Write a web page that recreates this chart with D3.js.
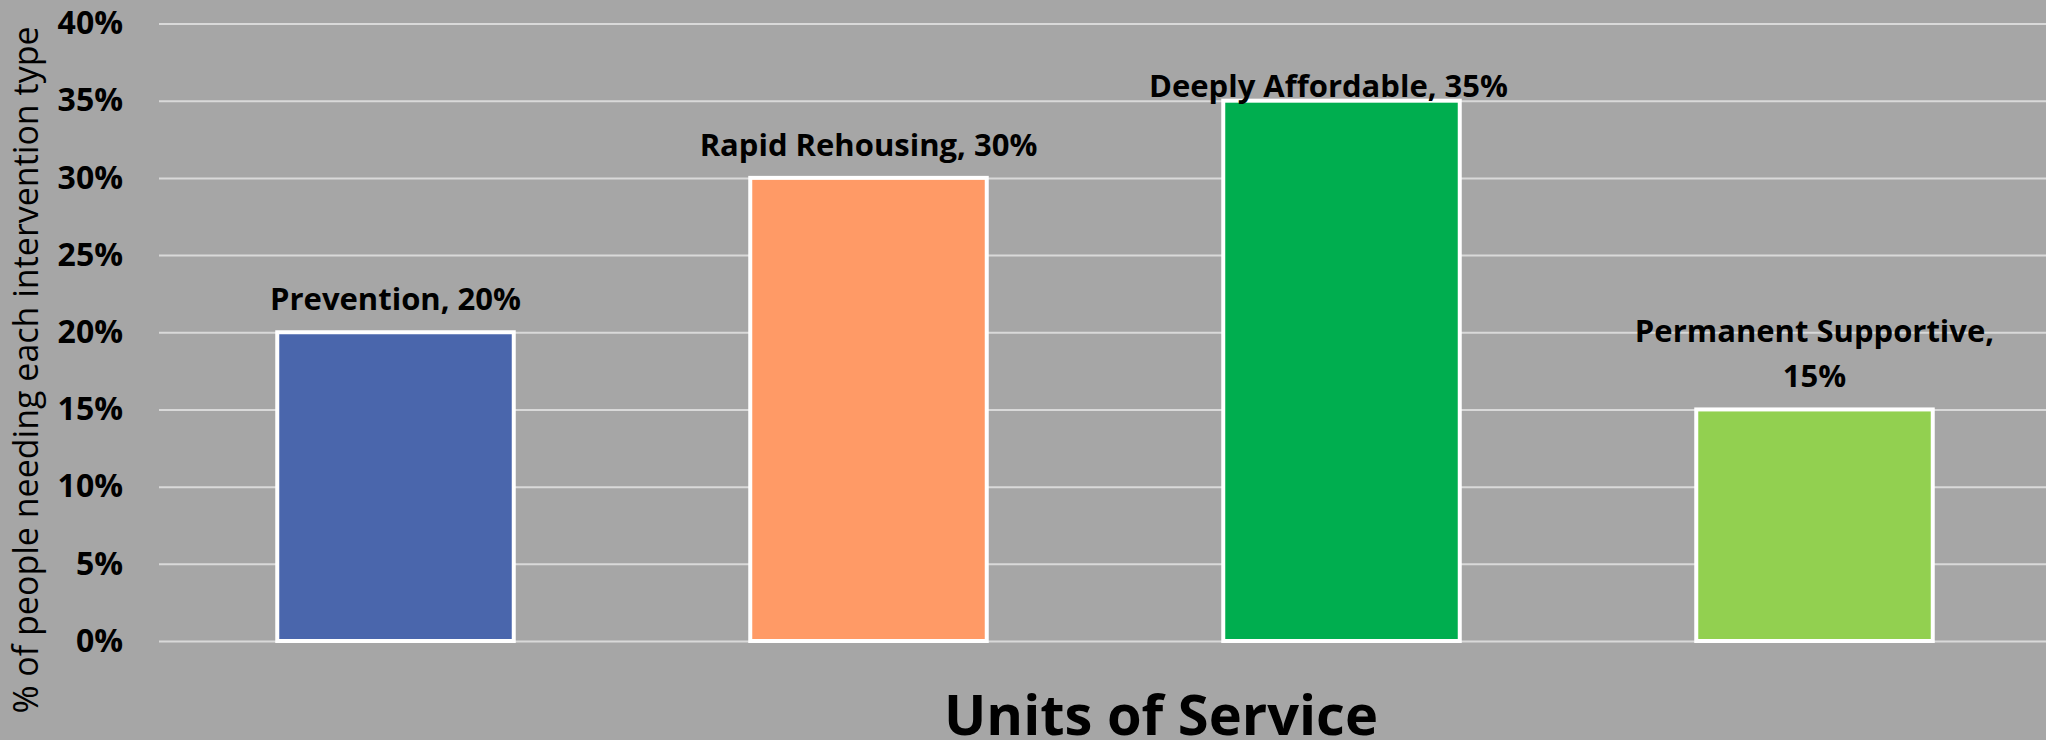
<!DOCTYPE html>
<html>
<head>
<meta charset="utf-8">
<script src="https://cdn.jsdelivr.net/npm/d3@7"></script>
<style>
  html, body { margin: 0; padding: 0; background: #a6a6a6; }
  svg { display: block; }
  text { font-family: "Open Sans", "Noto Sans", sans-serif; fill: #000; }
</style>
</head>
<body>
<div id="chart"></div>
<script>
// chart data
var categories = ["Prevention", "Rapid Rehousing", "Deeply Affordable", "Permanent Supportive"];
var values = [0.20, 0.30, 0.35, 0.15];
var barColors = ["#4a66ac", "#ff9a66", "#00ae4f", "#92d050"];
var yTicks = [0, 0.05, 0.10, 0.15, 0.20, 0.25, 0.30, 0.35, 0.40];
var yTitle = "% of people needing each  intervention type";
var xTitle = "Units of Service";

var W = 2046, H = 740;
var margin = {left: 159, right: -5, top: 23.5, bottom: 99};

var svg = d3.select("#chart").append("svg")
    .attr("width", W).attr("height", H);

svg.append("rect").attr("width", W).attr("height", H).style("fill", "#a6a6a6");

var x = d3.scaleBand()
    .domain(categories)
    .range([margin.left, W - margin.right])
    .paddingInner(0.5).paddingOuter(0.25);

var y = d3.scaleLinear()
    .domain([0, 0.40])
    .range([H - margin.bottom, margin.top]);

// gridlines
var yAxis = d3.axisLeft(y).tickValues(yTicks)
    .tickSize(-(W - margin.left))
    .tickFormat(d3.format(".0%"));

var gAxis = svg.append("g")
    .attr("transform", "translate(" + margin.left + ",0)")
    .call(yAxis);
gAxis.select(".domain").remove();
gAxis.selectAll(".tick line").style("stroke", "#d9d9d9").style("stroke-width", "2px");
gAxis.selectAll(".tick text")
    .attr("x", -36)
    .style("font-size", "32px").style("font-weight", "bold")
    .style("fill", "#000");

// bars
svg.selectAll("rect.bar").data(categories).enter().append("rect")
    .attr("class", "bar")
    .attr("x", function (d) { return x(d); })
    .attr("width", x.bandwidth())
    .attr("y", function (d, i) { return y(values[i]); })
    .attr("height", function (d, i) { return y(0) - y(values[i]); })
    .style("fill", function (d, i) { return barColors[i]; })
    .style("stroke", "#fff")
    .style("stroke-width", "4px");

// data labels
var maxLabelW = 400;
var minBaseline = 97;
var labels = svg.selectAll("text.dataLabel").data(categories).enter().append("text")
    .attr("class", "dataLabel")
    .attr("text-anchor", "middle")
    .style("font-size", "31px").style("font-weight", "bold");

labels.each(function (d, i) {
    var t = d3.select(this);
    var pct = d3.format(".0%")(values[i]);
    var cx = x(d) + x.bandwidth() / 2;
    var base = y(values[i]) - 22;
    t.text(d + ", " + pct);
    if (this.getComputedTextLength() > maxLabelW) {
        t.text(null);
        t.append("tspan").attr("x", cx).attr("y", base - 45).text(d + ",");
        t.append("tspan").attr("x", cx).attr("y", base).text(pct);
    } else {
        if (base < minBaseline) {
            base = minBaseline;
            cx -= 13;
        }
        t.attr("x", cx).attr("y", base);
    }
});

// axis titles
svg.append("text")
    .attr("transform", "translate(38," + 370 + ") rotate(-90)")
    .attr("text-anchor", "middle")
    .style("font-size", "34px")
    .text(yTitle);

svg.append("text")
    .attr("x", 1161).attr("y", 735)
    .attr("text-anchor", "middle")
    .style("font-size", "56px").style("font-weight", "bold")
    .text(xTitle);
</script>
</body>
</html>
